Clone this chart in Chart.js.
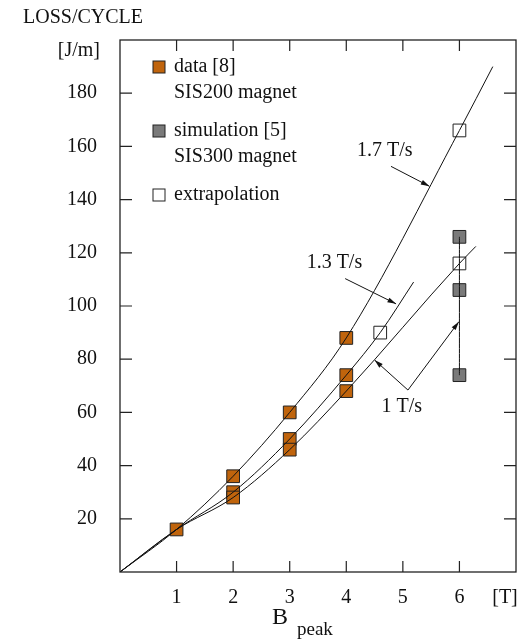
<!DOCTYPE html>
<html>
<head>
<meta charset="utf-8">
<script src="https://cdn.jsdelivr.net/npm/chart.js@4/dist/chart.umd.min.js"></script>
<style>
  html, body { margin: 0; padding: 0; background: #fff; overflow: hidden; }
  canvas { display: block; }
</style>
</head>
<body>
<canvas id="lossChart" width="520" height="639"></canvas>
<script>
// measured points (B peak [T], loss [J/m])
const dataX = [1, 2, 2, 2, 3, 3, 3, 4, 4, 4];
const dataY = [16, 36, 30, 28, 60, 50, 46, 88, 74, 68];
const simX = [6, 6, 6];
const simY = [126, 106, 74];
const extraX = [6, 6, 4.6];
const extraY = [166, 116, 90];

// fitted curves per ramp rate
const curve17X = [0, 1, 2, 3, 4, 6, 6.59];
const curve17Y = [0, 16, 36, 60, 88, 166, 190];
const curve13X = [0, 1, 2, 3, 4, 4.6, 5.19];
const curve13Y = [0, 16, 30, 50, 74, 90, 109];
const curve10X = [0, 1, 2, 3, 4, 6, 6.29];
const curve10Y = [0, 16, 28, 46, 68, 116, 122.4];

const xTicks = [1, 2, 3, 4, 5, 6];
const yTicks = [20, 40, 60, 80, 100, 120, 140, 160, 180];

const FONT = '"Liberation Serif", "DejaVu Serif", serif';
const ORANGE = '#c0640c';
const GREY = '#7a7a7a';

const pts = (xs, ys) => xs.map((x, i) => ({ x, y: ys[i] }));
const byId = (id) => document.getElementById(id);

function arrow(ctx, x1, y1, x2, y2) {
  const ang = Math.atan2(y2 - y1, x2 - x1);
  ctx.beginPath();
  ctx.moveTo(x1, y1);
  ctx.lineTo(x2, y2);
  ctx.stroke();
  ctx.beginPath();
  ctx.moveTo(x2, y2);
  ctx.lineTo(x2 - 9 * Math.cos(ang - 0.28), y2 - 9 * Math.sin(ang - 0.28));
  ctx.lineTo(x2 - 9 * Math.cos(ang + 0.28), y2 - 9 * Math.sin(ang + 0.28));
  ctx.closePath();
  ctx.fill();
}

const framePlugin = {
  id: 'frame',
  afterDraw(chart) {
    const { ctx, chartArea: a, scales } = chart;
    const px = (v) => scales.x.getPixelForValue(v);
    const py = (v) => scales.y.getPixelForValue(v);
    ctx.save();
    ctx.strokeStyle = '#222';
    ctx.fillStyle = '#111';
    ctx.lineWidth = 1.3;
    ctx.strokeRect(a.left, a.top, a.right - a.left, a.bottom - a.top);

    // inward ticks on all four sides
    ctx.lineWidth = 1.2;
    ctx.beginPath();
    xTicks.forEach((v) => {
      ctx.moveTo(px(v), a.bottom); ctx.lineTo(px(v), a.bottom - 11);
      ctx.moveTo(px(v), a.top); ctx.lineTo(px(v), a.top + 11);
    });
    yTicks.forEach((v) => {
      ctx.moveTo(a.left, py(v)); ctx.lineTo(a.left + 12, py(v));
      ctx.moveTo(a.right, py(v)); ctx.lineTo(a.right - 12, py(v));
    });
    ctx.stroke();

    // titles and units
    ctx.textBaseline = 'middle';
    ctx.font = '20px ' + FONT;
    ctx.textAlign = 'left';
    ctx.fillText('LOSS/CYCLE', 23, 18);
    ctx.textAlign = 'right';
    ctx.fillText('[J/m]', 100, 51);
    ctx.textAlign = 'center';
    ctx.fillText('[T]', 505, 598);
    ctx.font = '24px ' + FONT;
    ctx.textAlign = 'left';
    ctx.fillText('B', 272, 618);
    ctx.font = '19px ' + FONT;
    ctx.fillText('peak', 297, 630);

    // legend
    ctx.font = '20px ' + FONT;
    ctx.lineWidth = 1;
    const box = (cx, cy, fill) => {
      if (fill) { ctx.fillStyle = fill; ctx.fillRect(cx - 6, cy - 6, 12, 12); }
      ctx.strokeStyle = '#222';
      ctx.strokeRect(cx - 6, cy - 6, 12, 12);
      ctx.fillStyle = '#111';
    };
    box(159, 67, ORANGE);
    ctx.fillText('data [8]', 174, 67);
    ctx.fillText('SIS200 magnet', 174, 93);
    box(159, 131, GREY);
    ctx.fillText('simulation [5]', 174, 131);
    ctx.fillText('SIS300 magnet', 174, 157);
    box(159, 195, null);
    ctx.fillText('extrapolation', 174, 195);

    // curve annotations
    ctx.textAlign = 'center';
    ctx.fillText('1.7 T/s', px(4.68), py(158.3));
    ctx.fillText('1.3 T/s', px(3.79), py(116.3));
    ctx.fillText('1 T/s', px(4.98), py(62));
    ctx.lineWidth = 1;
    ctx.strokeStyle = '#111';
    arrow(ctx, px(4.79), py(152.5), px(5.47), py(145));
    arrow(ctx, px(3.98), py(110.3), px(4.88), py(100.8));
    arrow(ctx, px(5.09), py(68.4), px(4.5), py(79.7));
    arrow(ctx, px(5.09), py(68.4), px(5.99), py(94.1));
    ctx.restore();
  }
};

const curveStyle = { showLine: true, borderColor: '#111', borderWidth: 1, pointRadius: 0, tension: 0.4, cubicInterpolationMode: 'monotone', order: 0 };
const markStyle = (fill) => ({ showLine: false, pointStyle: 'rect', pointRadius: 9, pointBackgroundColor: fill, pointBorderColor: '#222', pointBorderWidth: 1, order: 1 });

new Chart(byId('lossChart'), {
  type: 'scatter',
  data: {
    datasets: [
      { label: '1.7 T/s', data: pts(curve17X, curve17Y), ...curveStyle },
      { label: '1.3 T/s', data: pts(curve13X, curve13Y), ...curveStyle },
      { label: '1 T/s', data: pts(curve10X, curve10Y), ...curveStyle },
      { label: 'SIS300 range', data: [{ x: simX[0], y: Math.min(...simY) }, { x: simX[0], y: Math.max(...simY) }], ...curveStyle, tension: 0 },
      { label: 'data [8]', data: pts(dataX, dataY), ...markStyle(ORANGE) },
      { label: 'simulation [5]', data: pts(simX, simY), ...markStyle(GREY) },
      { label: 'extrapolation', data: pts(extraX, extraY), ...markStyle('#fff') }
    ]
  },
  options: {
    responsive: false,
    devicePixelRatio: 1,
    animation: false,
    layout: { autoPadding: false, padding: { top: 40, right: 4, left: 0, bottom: 0 } },
    plugins: { legend: { display: false }, tooltip: { enabled: false } },
    scales: {
      x: {
        type: 'linear', min: 0, max: 7,
        afterFit: (scale) => { scale.height = 67; scale.paddingLeft = 0; scale.paddingRight = 0; },
        ticks: { stepSize: 1, padding: 14, color: '#111', font: { family: FONT, size: 20 }, callback: (v) => (v >= 1 && v <= 6 ? v : '') },
        grid: { display: false, drawTicks: false },
        border: { display: false }
      },
      y: {
        type: 'linear', min: 0, max: 200,
        afterFit: (scale) => { scale.width = 120; scale.paddingTop = 0; scale.paddingBottom = 0; },
        ticks: { stepSize: 20, padding: 23, color: '#111', font: { family: FONT, size: 20 }, callback: (v) => (v > 0 && v < 200 ? v : '') },
        grid: { display: false, drawTicks: false },
        border: { display: false }
      }
    }
  },
  plugins: [framePlugin]
});
</script>
</body>
</html>
